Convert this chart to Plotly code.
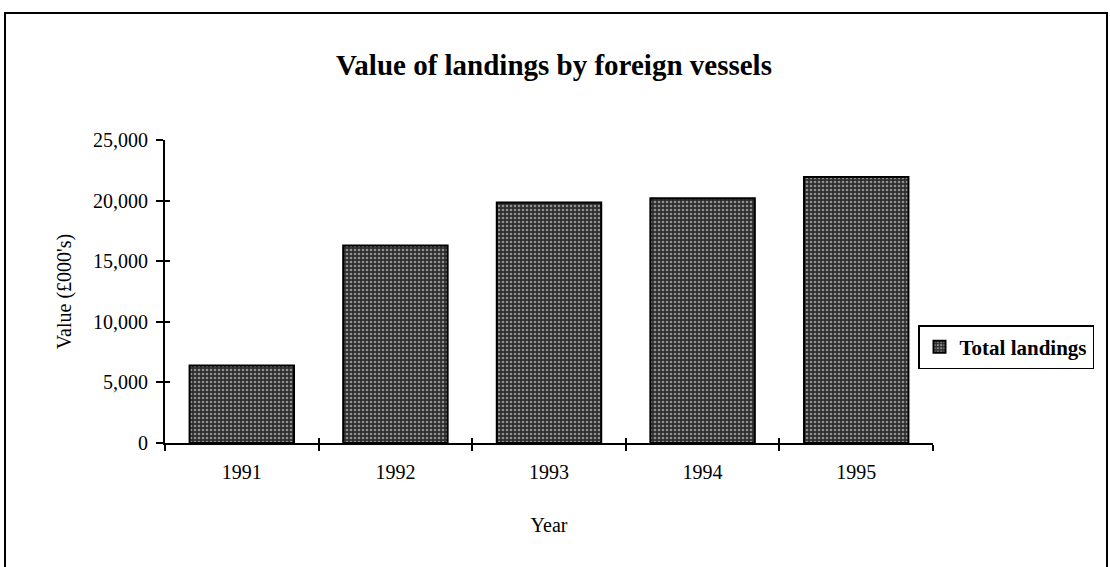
import plotly.graph_objects as go

years = ["1991", "1992", "1993", "1994", "1995"]
values = [6400, 16300, 19850, 20200, 21950]
y_ticks = [0, 5000, 10000, 15000, 20000, 25000]
series_name = "Total landings"

L, R, T, B = 165, 933, 140, 443  # plot area pixels in reference
W, H = 1110, 567

fig = go.Figure()
fig.add_trace(go.Bar(
    x=years, y=values, name=series_name,
    marker=dict(
        color="#333333",
        line=dict(color="black", width=2),
        pattern=dict(shape=".", fgcolor="#f0f0f0", bgcolor="#2e2e2e", size=4, solidity=0.35),
    ),
    showlegend=True,
))
# invisible copy on overlay axes, only used to draw the inner half of the crossing ticks
fig.add_trace(go.Bar(x=years, y=values, xaxis="x2", yaxis="y2", opacity=0,
                     showlegend=False, hoverinfo="skip"))

fig.update_layout(
    width=W, height=H,
    margin=dict(l=L, r=W - R, t=T, b=H - B),
    paper_bgcolor="white", plot_bgcolor="white",
    font=dict(family="Liberation Serif", color="black", size=20),
    title=dict(text="<b>Value of landings by foreign vessels</b>", x=554 / W, xref="container",
               y=1 - 65 / H, yref="container", xanchor="center", yanchor="middle",
               font=dict(size=29, family="Liberation Serif", color="black")),
    bargap=0.32,
    showlegend=True,
    legend=dict(x=(918 - L) / (R - L), xanchor="left", y=(B - 347) / (B - T), yanchor="middle",
                bordercolor="black", borderwidth=1.5, bgcolor="white",
                font=dict(size=21, family="Liberation Serif", weight="bold"),
                itemwidth=30, tracegroupgap=0),
    xaxis=dict(
        showline=True, linecolor="black", linewidth=2,
        ticks="outside", tickson="boundaries", ticklen=6, tickcolor="black", tickwidth=1.5,
        showgrid=False, zeroline=False, ticklabelstandoff=10,
        title=dict(text="Year", font=dict(size=20), standoff=36),
        tickfont=dict(size=20),
    ),
    yaxis=dict(
        range=[0, 25000], tickvals=y_ticks, tickformat=",d",
        showline=True, linecolor="black", linewidth=2,
        ticks="outside", ticklen=7, tickcolor="black", tickwidth=1.5,
        showgrid=False, zeroline=False, ticklabelstandoff=4,
        title=dict(text="Value (£000's)", font=dict(size=20), standoff=16),
        tickfont=dict(size=20),
    ),
    xaxis2=dict(overlaying="x", matches="x", side="bottom", ticks="inside", tickson="boundaries",
                ticklen=5, tickcolor="black", tickwidth=1.5, showticklabels=False,
                showline=False, showgrid=False, zeroline=False),
    yaxis2=dict(overlaying="y", side="left", range=[0, 25000], tickvals=y_ticks, ticks="inside",
                ticklen=5, tickcolor="black", tickwidth=1.5, showticklabels=False,
                showline=False, showgrid=False, zeroline=False),
)

fig.add_shape(type="rect", xref="paper", yref="paper",
              x0=(5 - L) / (R - L), x1=(1107 - L) / (R - L),
              y0=(B - 580) / (B - T), y1=(B - 13) / (B - T),
              line=dict(color="black", width=2), layer="below")

fig.write_html("out.html", config={"displayModeBar": False},
               post_script="document.body.style.margin='0';")
